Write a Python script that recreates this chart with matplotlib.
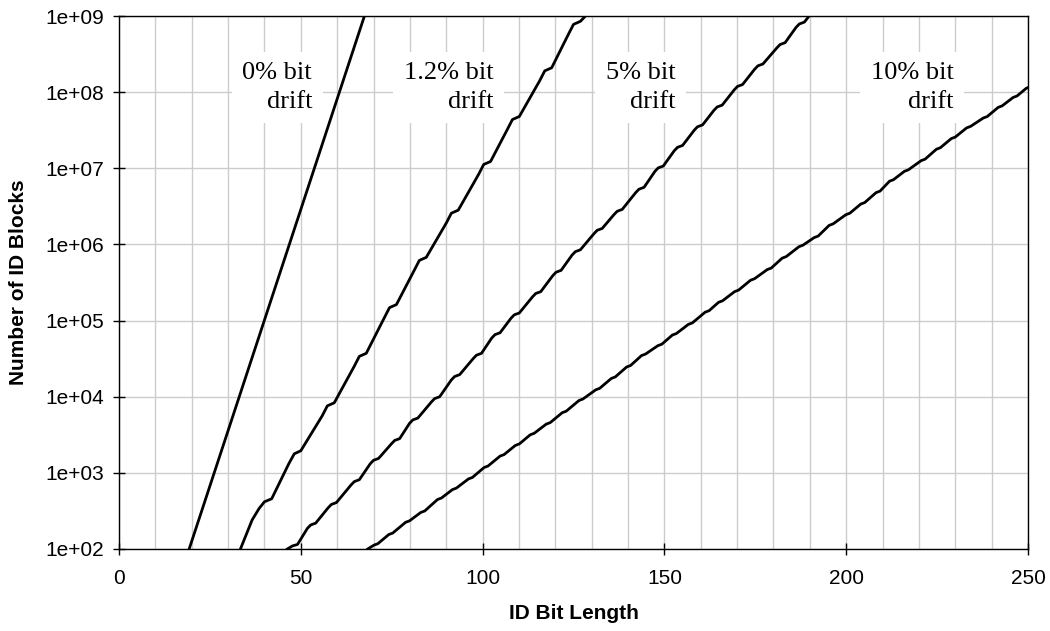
import matplotlib
matplotlib.use("Agg")
import matplotlib.pyplot as plt
import numpy as np
from matplotlib.ticker import FixedLocator, FuncFormatter, NullFormatter

# ---- data (x = ID bit length, values = log10 of number of ID blocks) ----
x_0 = [19.3, 67.5]
log_0 = [2.00, 9.00]

x_12 = [33.4, 36.6, 38.5, 40.0, 42.0,
        46.7, 48.2, 50.0,
        55.9, 57.3, 59.2,
        64.7, 66.1, 68.0,
        73.0, 74.4, 76.3,
        81.2, 82.6, 84.5,
        90.0, 91.4, 93.3,
        98.9, 100.3, 102.2,
        106.8, 108.2, 110.1,
        115.7, 117.1, 119.0,
        123.6, 125.0, 126.9,
        128.3]
log_12 = [2.00, 2.38, 2.53, 2.62, 2.66,
          3.12, 3.25, 3.29,
          3.75, 3.88, 3.92,
          4.40, 4.53, 4.57,
          5.04, 5.17, 5.21,
          5.66, 5.79, 5.83,
          6.28, 6.41, 6.45,
          6.92, 7.05, 7.09,
          7.51, 7.64, 7.68,
          8.15, 8.28, 8.32,
          8.76, 8.89, 8.93,
          9.00]

x_5 = [46.3, 47.7, 49.1,
       51.8, 52.7, 54.1,
       57.5, 58.4, 59.8,
       63.8, 64.7, 66.1,
       69.1, 70.0, 71.4,
       74.9, 75.8, 77.2,
       79.9, 80.8, 82.2,
       85.9, 86.8, 88.2,
       91.4, 92.3, 93.7,
       97.4, 98.3, 99.7,
       102.5, 103.4, 104.8,
       107.8, 108.7, 110.1,
       113.7, 114.6, 116.0,
       119.3, 120.2, 121.6,
       124.6, 125.5, 126.9,
       130.6, 131.5, 132.9,
       136.1, 137.0, 138.4,
       142.1, 143.0, 144.4,
       147.4, 148.3, 149.7,
       152.7, 153.6, 155.0,
       158.2, 159.1, 160.5,
       163.6, 164.5, 165.9,
       169.2, 170.1, 171.5,
       174.8, 175.7, 177.1,
       180.9, 181.8, 183.2,
       186.2, 187.1, 188.5,
       189.8]
log_5 = [2.00, 2.04, 2.06,
         2.27, 2.315, 2.34,
         2.54, 2.585, 2.61,
         2.84, 2.885, 2.91,
         3.12, 3.165, 3.19,
         3.38, 3.425, 3.45,
         3.65, 3.695, 3.72,
         3.93, 3.975, 4.00,
         4.22, 4.265, 4.29,
         4.50, 4.545, 4.57,
         4.77, 4.815, 4.84,
         5.03, 5.075, 5.10,
         5.31, 5.355, 5.38,
         5.59, 5.635, 5.66,
         5.86, 5.905, 5.93,
         6.14, 6.185, 6.21,
         6.39, 6.435, 6.46,
         6.68, 6.725, 6.75,
         6.96, 7.005, 7.03,
         7.23, 7.275, 7.30,
         7.50, 7.545, 7.57,
         7.76, 7.805, 7.83,
         8.03, 8.075, 8.10,
         8.30, 8.345, 8.37,
         8.58, 8.625, 8.65,
         8.85, 8.895, 8.92,
         9.00]

x_10 = [68.4,
        70.1, 71.2, 74.2, 75.3, 78.8, 79.9, 83.0, 84.1, 87.6, 88.7,
        91.7, 92.8, 96.1, 97.2, 100.4, 101.5, 104.8, 105.9, 109.0, 110.1,
        113.1, 114.2, 117.5, 118.6, 121.9, 123.0, 126.5, 127.6, 131.1, 132.2,
        135.4, 136.5, 139.6, 140.7, 143.7, 144.8, 148.2, 149.3, 152.2, 153.3,
        156.6, 157.7, 161.2, 162.3, 164.9, 166.0, 169.3, 170.4, 173.7, 174.8,
        178.3, 179.4, 182.4, 183.5, 187.0, 188.1, 191.2, 192.3, 195.3, 196.4,
        199.9, 201.0, 204.0, 205.1, 208.2, 209.3, 211.9, 213.0, 216.0, 217.1,
        220.6, 221.7, 224.8, 225.9, 228.9, 230.0, 233.1, 234.2, 237.7, 238.8,
        241.8, 242.9, 245.9, 247.0, 249.5, 250.0]
log_10 = [2.00,
          2.05, 2.07, 2.19, 2.21, 2.35, 2.37, 2.48, 2.50, 2.65, 2.67,
          2.78, 2.80, 2.92, 2.94, 3.07, 3.09, 3.22, 3.24, 3.36, 3.38,
          3.50, 3.52, 3.64, 3.66, 3.79, 3.81, 3.95, 3.97, 4.09, 4.11,
          4.24, 4.26, 4.39, 4.41, 4.54, 4.56, 4.67, 4.69, 4.81, 4.83,
          4.95, 4.97, 5.11, 5.13, 5.24, 5.26, 5.38, 5.40, 5.53, 5.55,
          5.67, 5.69, 5.82, 5.84, 5.97, 5.99, 6.09, 6.11, 6.25, 6.27,
          6.39, 6.41, 6.53, 6.55, 6.68, 6.70, 6.83, 6.85, 6.96, 6.98,
          7.10, 7.12, 7.25, 7.27, 7.39, 7.41, 7.53, 7.55, 7.66, 7.68,
          7.80, 7.82, 7.93, 7.95, 8.05, 8.06]

series = [(x_0, log_0), (x_12, log_12), (x_5, log_5), (x_10, log_10)]

label_texts = ["0% bit\ndrift", "1.2% bit\ndrift", "5% bit\ndrift", "10% bit\ndrift"]
label_x = [53.1, 102.9, 153.1, 229.6]
label_y = [1.15e8, 1.15e8, 1.15e8, 1.15e8]

x_major = [0, 50, 100, 150, 200, 250]
x_minor = list(range(10, 250, 10))
y_major = [1e2, 1e3, 1e4, 1e5, 1e6, 1e7, 1e8, 1e9]

# ---- figure ----
plt.rcParams['font.family'] = ['Liberation Sans', 'DejaVu Sans']
fig = plt.figure(figsize=(10.5, 6.31), dpi=100)
ax = fig.add_axes([119/1050, 1 - 549/631, (1028 - 119)/1050, (549 - 16)/631])

for xs, ls in series:
    ax.plot(xs, 10.0 ** np.asarray(ls), color='black', lw=2.0,
            solid_joinstyle='round', zorder=3)

ax.set_yscale('log')
ax.set_xlim(0, 250)
ax.set_ylim(1e2, 1e9)

ax.xaxis.set_major_locator(FixedLocator(x_major))
ax.xaxis.set_minor_locator(FixedLocator(x_minor))
ax.xaxis.set_minor_formatter(NullFormatter())
ax.yaxis.set_major_locator(FixedLocator(y_major))
ax.yaxis.set_minor_locator(FixedLocator([]))
ax.yaxis.set_major_formatter(FuncFormatter(lambda v, p: f"{v:.0e}"))

ax.set_axisbelow(True)
ax.grid(True, which='major', axis='y', color='#cccccc', lw=1.0)
ax.grid(True, which='both', axis='x', color='#cccccc', lw=1.0)

ax.tick_params(axis='both', which='major', direction='inout', length=9,
               width=1.0, color='black', labelsize=15)
ax.tick_params(axis='x', which='major', pad=10)
ax.tick_params(axis='y', which='major', pad=6)
ax.tick_params(axis='x', which='minor', length=0)

for sp in ax.spines.values():
    sp.set_linewidth(1.0)
    sp.set_color('black')

for t, lx, ly in zip(label_texts, label_x, label_y):
    ax.text(lx, ly, t, ha='right', va='center', multialignment='right',
            fontsize=19, family=['Liberation Serif', 'DejaVu Serif'],
            linespacing=1.37,
            bbox=dict(facecolor='white', edgecolor='none',
                      boxstyle='square,pad=0.4'), zorder=2.5)

ax.set_xlabel('ID Bit Length', fontsize=15, fontweight='bold')
ax.set_ylabel('Number of ID Blocks', fontsize=15, fontweight='bold')
ax.xaxis.set_label_coords(0.5, -0.103)
ax.yaxis.set_label_coords(-0.100, 0.5)

fig.savefig('out.png', dpi=100)
